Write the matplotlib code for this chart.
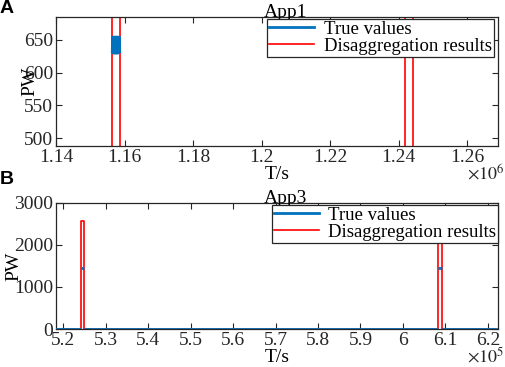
import numpy as np
import matplotlib
matplotlib.use("Agg")
from matplotlib import pyplot as plt
from matplotlib.ticker import FuncFormatter

plt.rcParams['font.family'] = ['Liberation Serif']
plt.rcParams['mathtext.fontset'] = 'stix'

BLUE = '#0072BD'
RED = '#FF0000'
nan = np.nan

# App1 (times in s); NaN breaks the blue trace so the rising edges sit under the red ones
app1_true_t = [1.1400e6, 1.1564e6, nan, 1.1564e6, 1.1565e6, 1.1566e6, 1.1567e6, 1.1568e6,
               1.1569e6, 1.1570e6, 1.1571e6, 1.1572e6, 1.1573e6, 1.1574e6, 1.1575e6,
               1.1576e6, 1.1577e6, 1.1578e6, 1.1579e6, 1.1580e6, 1.1581e6, 1.1582e6,
               1.1583e6, 1.1584e6, 1.1585e6, 1.1586e6, nan, 1.1586e6, 1.2690e6]
app1_true_p = [0, 0, nan, 630, 655, 629, 656, 631, 655, 628, 654, 630, 656, 629, 655,
               631, 654, 628, 656, 630, 655, 629, 654, 631, 655, 630, nan, 0, 0]
app1_est_t = [1.1400e6, 1.1564e6, 1.1564e6, 1.1586e6, 1.1586e6,
              1.2420e6, 1.2420e6, 1.2443e6, 1.2443e6, 1.2690e6]
app1_est_p = [0, 0, 1200, 1200, 0, 0, 1200, 1200, 0, 0]

# App3
app3_true_t = [5.180e5, 5.2425e5, nan, 5.2425e5, 5.2495e5, nan, 5.2495e5,
               6.0824e5, nan, 6.0824e5, 6.0929e5, nan, 6.0929e5, 6.230e5]
app3_true_p = [0, 0, nan, 1460, 1460, nan, 0, 0, nan, 1455, 1455, nan, 0, 0]
app3_est_t = [5.180e5, 5.2425e5, 5.2425e5, 5.2495e5, 5.2495e5,
              6.0824e5, 6.0824e5, 6.0929e5, 6.0929e5, 6.230e5]
app3_est_p = [0, 0, 2580, 2580, 0, 0, 2600, 2600, 0, 0]

app1_xticks = [1.14e6, 1.16e6, 1.18e6, 1.20e6, 1.22e6, 1.24e6, 1.26e6]
app1_yticks = [500, 550, 600, 650]
app3_xticks = [5.2e5, 5.3e5, 5.4e5, 5.5e5, 5.6e5, 5.7e5, 5.8e5, 5.9e5, 6.0e5, 6.1e5, 6.2e5]
app3_yticks = [0, 1000, 2000, 3000]

FS = 14


def style_axes(ax, scale):
    for s in ax.spines.values():
        s.set_linewidth(0.9)
        s.set_color('#262626')
    ax.tick_params(direction='in', length=4, width=0.8, top=True, right=True,
                   labelsize=FS, colors='#262626', pad=2)
    ax.xaxis.set_major_formatter(FuncFormatter(lambda v, p: f"{v / scale:g}"))


fig = plt.figure(figsize=(5.05, 3.67), dpi=100)
ax1 = fig.add_axes([0.111, 0.602, 0.875, 0.352])
ax2 = fig.add_axes([0.111, 0.1035, 0.875, 0.3435])

line_kw = dict(solid_capstyle='butt', solid_joinstyle='bevel')
ax1.plot(app1_est_t, app1_est_p, color=RED, lw=1.2, zorder=2)
ax1.plot(app1_true_t, app1_true_p, color=BLUE, lw=2, zorder=3, **line_kw)
ax1.set_xlim(1.1405e6, 1.269e6)
ax1.set_ylim(488, 685)
ax1.set_xticks(app1_xticks)
ax1.set_yticks(app1_yticks)
style_axes(ax1, 1e6)
ax1.set_title('App1', fontsize=FS, pad=0, x=0.52)
ax1.set_xlabel('T/s', fontsize=FS, labelpad=0)
ax1.set_ylabel('PW', fontsize=FS, labelpad=-10)

ax2.plot(app3_est_t, app3_est_p, color=RED, lw=1.2, zorder=2)
ax2.plot(app3_true_t, app3_true_p, color=BLUE, lw=2, zorder=3, **line_kw)
ax2.set_xlim(5.1835e5, 6.2235e5)
ax2.set_ylim(0, 3000)
ax2.set_xticks(app3_xticks)
ax2.set_yticks(app3_yticks)
style_axes(ax2, 1e5)
ax2.set_title('App3', fontsize=FS, pad=0, x=0.52)
ax2.set_xlabel('T/s', fontsize=FS, labelpad=0)
ax2.set_ylabel('PW', fontsize=FS, labelpad=-6)

handles = [plt.Line2D([], [], color=BLUE, lw=2), plt.Line2D([], [], color=RED, lw=1.2)]
labels = ['True values', 'Disaggregation results']
for ax, anchor in [(ax1, (0.99, 0.985)), (ax2, (1.0, 0.985))]:
    leg = ax.legend(handles, labels, loc='upper right', bbox_to_anchor=anchor, fontsize=13.5,
                    fancybox=False, framealpha=1, edgecolor='#262626',
                    borderaxespad=0, handlelength=2.4, handletextpad=0.5,
                    borderpad=0.1, labelspacing=0.0)
    leg.get_frame().set_linewidth(0.9)
    leg.set_zorder(5)

fig.text(0.999, 1 - 173 / 367, r'$\times10^{6}$', ha='right', va='center', fontsize=13,
         color='#262626')
fig.text(0.999, 1 - 356 / 367, r'$\times10^{5}$', ha='right', va='center', fontsize=13,
         color='#262626')
fig.text(0.0, 1.0, 'A', ha='left', va='top', fontsize=14, fontweight='bold',
         family='Liberation Sans')
fig.text(0.0, 1 - 171 / 367, 'B', ha='left', va='top', fontsize=14, fontweight='bold',
         family='Liberation Sans')

fig.savefig('out.png', dpi=100)
